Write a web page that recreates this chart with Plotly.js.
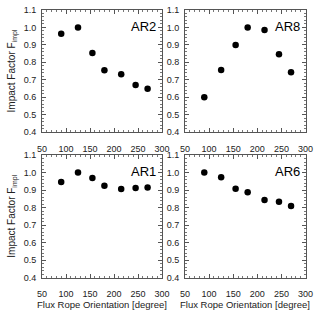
<!DOCTYPE html>
<html><head><meta charset="utf-8">
<script src="https://cdn.plot.ly/plotly-3.0.1.min.js"></script>
<style>html,body{margin:0;padding:0;background:#fff}#c{width:317px;height:317px}</style>
</head><body><div id="c"></div>
<script>
const orientation = [90, 125, 155, 180, 215, 245, 270];
const ar2 = [0.964, 1.0, 0.853, 0.754, 0.731, 0.670, 0.648];
const ar8 = [0.600, 0.756, 0.899, 1.0, 0.985, 0.846, 0.743];
const ar1 = [0.946, 1.0, 0.969, 0.925, 0.906, 0.911, 0.915];
const ar6 = [1.0, 0.973, 0.907, 0.887, 0.843, 0.833, 0.809];
const panelNames = ['AR2', 'AR8', 'AR1', 'AR6'];
const xTitle = 'Flux Rope Orientation [degree]';
const yTitle = 'Impact Factor F<sub>impl</sub>';

const series = [ar2, ar8, ar1, ar6];
const FONT = 'Liberation Sans, Arial, sans-serif';
const ink = '#222';
const traces = series.map((v, i) => ({
  x: orientation, y: v, type: 'scatter', mode: 'markers',
  marker: {color: '#000', size: 6.5},
  xaxis: i === 0 ? 'x' : 'x' + (i + 1),
  yaxis: i === 0 ? 'y' : 'y' + (i + 1),
  showlegend: false, hoverinfo: 'skip'
}));

const xd = [[42/317, 162/317], [185/317, 305.5/317]];
const yd = [[(317-132)/317, (317-10)/317], [(317-277.5)/317, (317-155)/317]];

function xaxis(col, row) {
  return {
    domain: xd[col], anchor: row * 2 + col === 0 ? 'y' : 'y' + (row * 2 + col + 1),
    range: [50, 300], tickvals: [50, 100, 150, 200, 250, 300],
    ticks: 'inside', ticklen: 4, tickcolor: '#555', tickwidth: 1,
    minor: {dtick: 10, tick0: 50, ticks: 'inside', ticklen: 2, tickcolor: '#777'},
    showline: true, linecolor: '#555', linewidth: 1, mirror: 'ticks',
    showgrid: false, zeroline: false, ticklabelstandoff: 8,
    tickfont: {family: FONT, size: 9, color: ink}
  };
}
function yaxis(col, row, showTitle) {
  const a = {
    domain: yd[row], anchor: row * 2 + col === 0 ? 'x' : 'x' + (row * 2 + col + 1),
    range: [0.4, 1.1], tickvals: [0.4, 0.5, 0.6, 0.7, 0.8, 0.9, 1.0, 1.1], tickformat: '.1f',
    ticks: 'inside', ticklen: 4, tickcolor: '#555', tickwidth: 1,
    minor: {dtick: 0.02, tick0: 0.4, ticks: 'inside', ticklen: 2, tickcolor: '#777'},
    showline: true, linecolor: '#555', linewidth: 1, mirror: 'ticks',
    showgrid: false, zeroline: false, ticklabelstandoff: 3,
    tickfont: {family: FONT, size: 9, color: ink}
  };
  if (showTitle) a.title = {text: yTitle, font: {family: FONT, size: 10, color: ink}, standoff: 6};
  return a;
}

const annotations = panelNames.map((n, i) => ({
  text: n, xref: (i === 0 ? 'x' : 'x' + (i + 1)) + ' domain', yref: (i === 0 ? 'y' : 'y' + (i + 1)) + ' domain',
  x: 0.97, y: 0.94, xanchor: 'right', yanchor: 'top', showarrow: false,
  font: {family: FONT, size: 13, color: '#000'}
}));
['x3', 'x4'].forEach(ax => annotations.push({
  text: xTitle, xref: ax + ' domain', yref: 'paper', x: 0.5, y: (317 - 304) / 317,
  xanchor: 'center', yanchor: 'middle', showarrow: false,
  font: {family: FONT, size: 9.5, color: ink}
}));

const layout = {
  width: 317, height: 317, margin: {l: 0, r: 0, t: 0, b: 0},
  paper_bgcolor: '#fff', plot_bgcolor: '#fff', annotations
};
[[0,0],[1,0],[0,1],[1,1]].forEach(([c, r], i) => {
  const k = i === 0 ? '' : String(i + 1);
  layout['xaxis' + k] = xaxis(c, r);
  layout['yaxis' + k] = yaxis(c, r, c === 0);
});
Plotly.newPlot('c', traces, layout, {staticPlot: true, displayModeBar: false});
</script></body></html>
